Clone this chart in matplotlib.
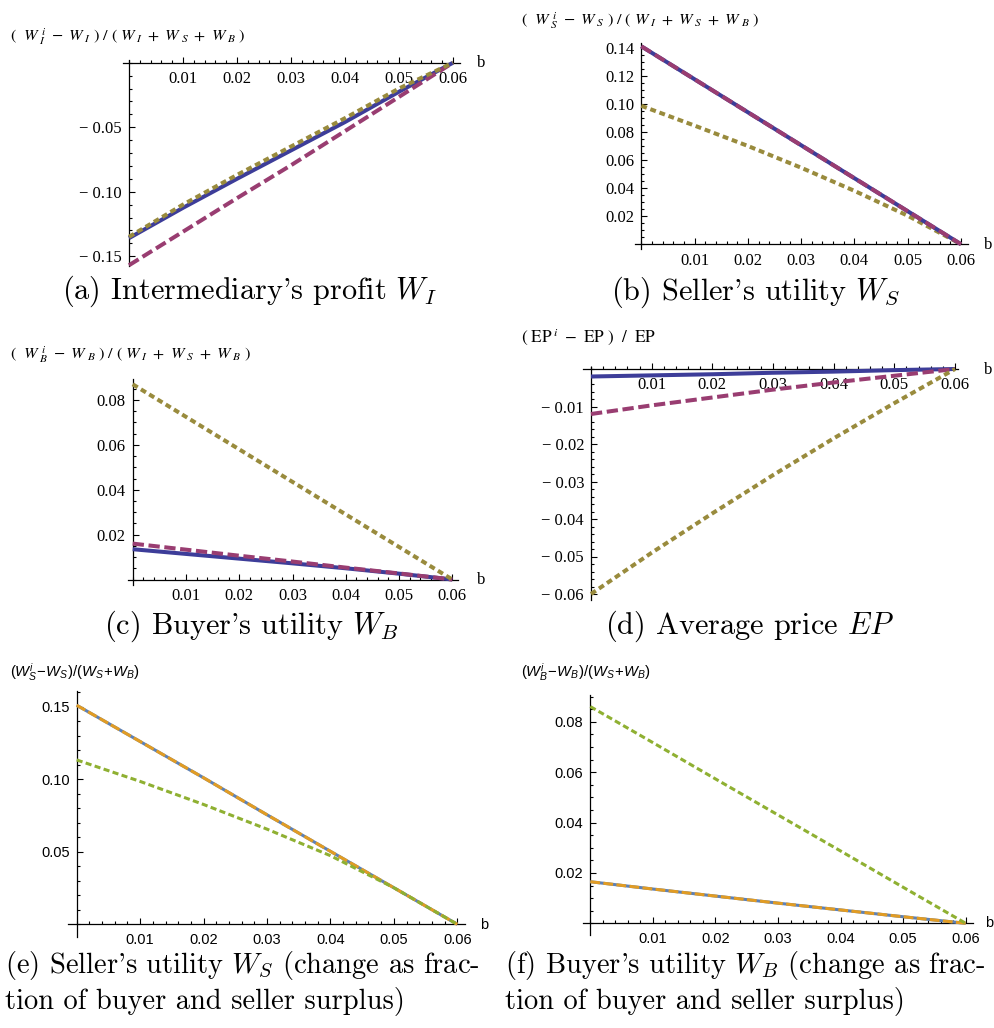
import matplotlib
matplotlib.use('Agg')
import matplotlib.pyplot as plt
from matplotlib.ticker import FixedLocator, MultipleLocator, FuncFormatter

plt.rcParams['mathtext.fontset'] = 'cm'
plt.rcParams['mathtext.rm'] = 'Liberation Sans'
plt.rcParams['mathtext.it'] = 'Liberation Sans:italic'
plt.rcParams['mathtext.bf'] = 'Liberation Sans:bold'

# ---------------- data ----------------
b_vals = [0.0, 0.01, 0.02, 0.03, 0.04, 0.05, 0.06]

# (a) intermediary's profit
a_blue = [-0.136, -0.1125, -0.0900, -0.0680, -0.0460, -0.0225, 0.0]
a_magenta = [-0.157, -0.1310, -0.1050, -0.0795, -0.0530, -0.0265, 0.0]
a_olive = [-0.135, -0.1100, -0.0870, -0.0650, -0.0430, -0.0200, 0.0]

# (b) seller's utility
b_blue = [0.141, 0.1175, 0.0940, 0.0705, 0.0470, 0.0235, 0.0]
b_magenta = [0.141, 0.1175, 0.0940, 0.0705, 0.0470, 0.0235, 0.0]
b_olive = [0.0986, 0.0845, 0.0700, 0.0545, 0.0380, 0.0203, 0.0]

# (c) buyer's utility
c_blue = [0.0135, 0.0114, 0.0093, 0.0072, 0.0050, 0.0026, 0.0]
c_magenta = [0.0160, 0.0133, 0.0106, 0.0080, 0.0053, 0.0027, 0.0]
c_olive = [0.0870, 0.0725, 0.0580, 0.0435, 0.0290, 0.0145, 0.0]

# (d) average price
d_blue = [-0.0020, -0.0017, -0.0014, -0.0010, -0.0007, -0.0003, 0.0]
d_magenta = [-0.0120, -0.0097, -0.0076, -0.0055, -0.0036, -0.0018, 0.0]
d_olive = [-0.0600, -0.0490, -0.0385, -0.0283, -0.0185, -0.0091, 0.0]

# (e) seller's utility, fraction of buyer+seller surplus
e_blue = [0.151, 0.1260, 0.1010, 0.0755, 0.0503, 0.0252, 0.0]
e_orange = [0.151, 0.1260, 0.1010, 0.0755, 0.0503, 0.0252, 0.0]
e_green = [0.1133, 0.0985, 0.0826, 0.0656, 0.0473, 0.0252, 0.0]

# (f) buyer's utility, fraction of buyer+seller surplus
f_blue = [0.0165, 0.0136, 0.0108, 0.0080, 0.0053, 0.0026, 0.0]
f_orange = [0.0165, 0.0136, 0.0108, 0.0080, 0.0053, 0.0026, 0.0]
f_green = [0.0860, 0.0717, 0.0573, 0.0430, 0.0287, 0.0143, 0.0]

x_ticks = [0.01, 0.02, 0.03, 0.04, 0.05, 0.06]
a_yticks = [-0.05, -0.10, -0.15]
b_yticks = [0.02, 0.04, 0.06, 0.08, 0.10, 0.12, 0.14]
c_yticks = [0.02, 0.04, 0.06, 0.08]
d_yticks = [-0.01, -0.02, -0.03, -0.04, -0.05, -0.06]
e_yticks = [0.05, 0.10, 0.15]
f_yticks = [0.02, 0.04, 0.06, 0.08]

captions = {
    'a': ["(a) Intermediary's profit $W_I$"],
    'b': ["(b) Seller's utility $W_S$"],
    'c': ["(c) Buyer's utility $W_B$"],
    'd': ["(d) Average price $EP$"],
    'e': ["(e) Seller's utility $W_S$ (change as frac-", "tion of buyer and seller surplus)"],
    'f': ["(f) Buyer's utility $W_B$ (change as frac-", "tion of buyer and seller surplus)"],
}
ylabels = {
    'a': r"$(\ \ W_{\ I}^{\ i}\ -\ W_{\ I}\ )\ /\ (\ W_{\ I}\ +\ W_{\ S}\ +\ W_{\ B}\ )$",
    'b': r"$(\ \ W_{\ S}^{\ i}\ -\ W_{\ S}\ )\ /\ (\ W_{\ I}\ +\ W_{\ S}\ +\ W_{\ B}\ )$",
    'c': r"$(\ \ W_{\ B}^{\ i}\ -\ W_{\ B}\ )\ /\ (\ W_{\ I}\ +\ W_{\ S}\ +\ W_{\ B}\ )$",
    'd': r"$(\ \mathrm{EP}^{\ i}\ -\ \mathrm{EP}\ )\ \ /\ \ \mathrm{EP}$",
    'e': r"$(W_{S}^{i}\!-\!W_{S})/(W_{S}\!+\!W_{B})$",
    'f': r"$(W_{B}^{i}\!-\!W_{B})/(W_{S}\!+\!W_{B})$",
}

# ---------------- styles ----------------
OLD_BLUE = '#3D3D99'
OLD_MAG = '#993D71'
OLD_OLIVE = '#998B3D'
NEW_BLUE = '#5E81B5'
NEW_ORANGE = '#E19C24'
NEW_GREEN = '#8FB032'

W, H = 994, 1028
fig = plt.figure(figsize=(W / 100, H / 100), dpi=100)


def make_axes(rect, x0px, x1px, y0px, y0v, y1px, y1v):
    l, t, r, b = rect
    ax = fig.add_axes([l / W, 1 - b / H, (r - l) / W, (b - t) / H])
    sx = (x1px - x0px) / 0.06
    ax.set_xlim((l - x0px) / sx, (r - x0px) / sx)
    sy = (y0px - y1px) / (y1v - y0v)
    ax.set_ylim(y0v + (y0px - b) / sy, y0v + (y0px - t) / sy)
    ax.patch.set_alpha(0)
    for s in ['top', 'right']:
        ax.spines[s].set_visible(False)
    ax.spines['left'].set_position(('data', 0))
    ax.spines['bottom'].set_position(('data', 0))
    for s in ['left', 'bottom']:
        ax.spines[s].set_linewidth(0.9)
    return ax


def style_ticks(ax, yticks, yminor, serif):
    ax.xaxis.set_major_locator(FixedLocator(x_ticks))
    ax.xaxis.set_minor_locator(MultipleLocator(0.002))
    ax.yaxis.set_major_locator(FixedLocator(yticks))
    ax.yaxis.set_minor_locator(MultipleLocator(yminor))
    if serif:
        fmt = FuncFormatter(lambda v, p: ('\u2212 ' if v < 0 else '') + f'{abs(v):.2f}')
        fam, fs = 'Liberation Serif', 12
    else:
        fmt = FuncFormatter(lambda v, p: f'{v:.2f}')
        fam, fs = 'Liberation Sans', 10.5
    ax.xaxis.set_major_formatter(fmt)
    ax.yaxis.set_major_formatter(fmt)
    ax.tick_params(which='both', direction='in', width=0.8, color='black')
    ax.tick_params(which='major', length=4.0)
    ax.tick_params(which='minor', length=2.2)
    ax.tick_params(axis='x', pad=6)
    ax.tick_params(axis='y', pad=5)
    for lab in ax.get_xticklabels() + ax.get_yticklabels():
        lab.set_fontfamily(fam)
        lab.set_fontsize(fs)


def old_lines(ax, blue, mag, olive, order):
    kw = dict(lw=2.9, clip_on=False, zorder=3, solid_capstyle='butt', dash_capstyle='butt')
    lines = {
        'blue': lambda: ax.plot(b_vals, blue, color=OLD_BLUE, **kw),
        'mag': lambda: ax.plot(b_vals, mag, color=OLD_MAG, dashes=(2.8, 1.15), **kw),
        'olive': lambda: ax.plot(b_vals, olive, color=OLD_OLIVE, dashes=(1.45, 0.95), **kw),
    }
    for k in order:
        lines[k]()


def new_lines(ax, blue, orange, green):
    kw = dict(lw=2.2, clip_on=False, zorder=3, solid_capstyle='butt', dash_capstyle='butt')
    ax.plot(b_vals, blue, color=NEW_BLUE, **kw)
    ax.plot(b_vals, orange, color=NEW_ORANGE, dashes=(3.2, 1.1), **kw)
    ax.plot(b_vals, green, color=NEW_GREEN, dashes=(2.0, 1.1), **kw)


def fig_text(x, y, s, **kw):
    fig.text(x / W, 1 - y / H, s, **kw)


# (a)
ax = make_axes((123, 60, 460, 266), 129, 453, 62.7, 0.0, 256.2, -0.15)
style_ticks(ax, a_yticks, 0.01, True)
old_lines(ax, a_blue, a_magenta, a_olive, ['blue', 'mag', 'olive'])

# (b)
ax = make_axes((635, 43, 968, 249), 641.3, 961, 244.2, 0.0, 47.7, 0.14)
style_ticks(ax, b_yticks, 0.005, True)
old_lines(ax, b_blue, b_magenta, b_olive, ['olive', 'blue', 'mag'])

# (c)
ax = make_axes((127.7, 379, 458.3, 585), 132.7, 452.3, 579.5, 0.0, 400, 0.08)
style_ticks(ax, c_yticks, 0.005, True)
old_lines(ax, c_blue, c_magenta, c_olive, ['blue', 'mag', 'olive'])

# (d)
ax = make_axes((583.3, 366.5, 958.3, 600), 591, 955, 369, 0.0, 556.5, -0.05)
style_ticks(ax, d_yticks, 0.002, True)
old_lines(ax, d_blue, d_magenta, d_olive, ['blue', 'mag', 'olive'])

# (e)
ax = make_axes((68.3, 691, 465, 936.5), 76.7, 457.3, 924.3, 0.0, 706.7, 0.15)
style_ticks(ax, e_yticks, 0.01, False)
new_lines(ax, e_blue, e_orange, e_green)

# (f)
ax = make_axes((582.7, 695, 973.3, 935), 590.3, 965.7, 923.3, 0.0, 721.7, 0.08)
style_ticks(ax, f_yticks, 0.005, False)
new_lines(ax, f_blue, f_orange, f_green)

# axis labels
serif_lab = dict(fontsize=11.7, math_fontfamily='stix', va='center', ha='left')
sans_lab = dict(fontsize=10.7, math_fontfamily='custom', va='center', ha='left')
fig_text(10, 37, ylabels['a'], **serif_lab)
fig_text(521, 21, ylabels['b'], **serif_lab)
fig_text(10, 355, ylabels['c'], **serif_lab)
fig_text(521, 337, ylabels['d'], fontsize=12.3, math_fontfamily='stix', va='center', ha='left')
fig_text(10, 672, ylabels['e'], **sans_lab)
fig_text(521, 672, ylabels['f'], **sans_lab)

# "b" labels
bser = dict(fontsize=12, family='Liberation Serif', va='center', ha='left')
bsan = dict(fontsize=10.5, family='Liberation Sans', va='center', ha='left')
fig_text(476.5, 63, 'b', **bser)
fig_text(984, 245, 'b', **bser)
fig_text(476.5, 580, 'b', **bser)
fig_text(984, 370, 'b', **bser)
fig_text(480, 925, 'b', **bsan)
fig_text(985, 923, 'b', **bsan)

# captions
cap = dict(fontsize=21.8, family='cmr10', math_fontfamily='cm', va='center')
cap2 = dict(fontsize=20.5, family='cmr10', math_fontfamily='cm', va='center')
fig_text(250, 291, captions['a'][0], ha='center', **cap)
fig_text(755, 292, captions['b'][0], ha='center', **cap)
fig_text(251, 626, captions['c'][0], ha='center', **cap)
fig_text(750, 626, captions['d'][0], ha='center', **cap)
fig_text(5, 965, captions['e'][0], ha='left', **cap2)
fig_text(5, 1001, captions['e'][1], ha='left', **cap2)
fig_text(505, 965, captions['f'][0], ha='left', **cap2)
fig_text(505, 1001, captions['f'][1], ha='left', **cap2)

fig.savefig('out.png', dpi=100)
